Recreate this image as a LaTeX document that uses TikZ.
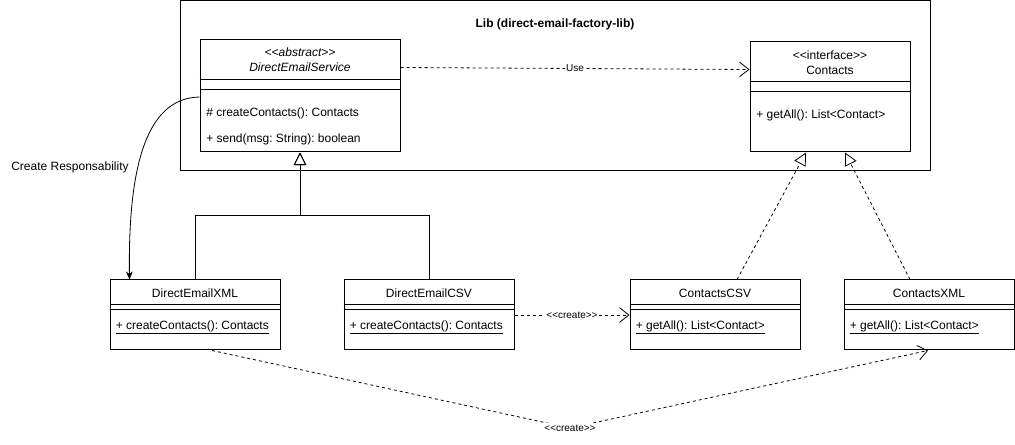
\documentclass[tikz,border=0pt]{standalone}
\usepackage{fontspec}
\setmainfont{Liberation Sans}[Ligatures=NoCommon]
\usetikzlibrary{arrows.meta,calc}
\frenchspacing
\newcommand\lt{<{}<}
\newcommand\gt{>{}>}
\tikzset{
  cls/.style={draw, line width=0.75pt, fill=white, inner sep=0pt, anchor=center},
  txt/.style={font=\fontsize{9}{11.25}\selectfont, inner sep=0pt},
  lbl/.style={font=\fontsize{7.5}{9}\selectfont, inner sep=1pt, fill=white},
  sep/.style={line width=0.75pt},
  dep/.style={dash pattern=on 2.25pt off 2.25pt, line width=0.6pt, -{Straight Barb[length=7pt,width=11pt]}},
  inh/.style={line width=0.75pt, -{Triangle[open,length=9.5pt,width=9.5pt,fill=white]}},
  real/.style={dash pattern=on 2.25pt off 2.25pt, line width=0.6pt, -{Triangle[open,length=9.5pt,width=9.5pt,fill=white]}},
  assoc/.style={line width=0.6pt, -{Stealth[length=6pt,width=5pt]}}
}
\begin{document}
\begin{tikzpicture}[x=0.75pt,y=-0.75pt]
\useasboundingbox (0,0) rectangle (1015,445);
% Lib frame
\node[cls, minimum width=562.5pt, minimum height=127.5pt] (lib) at (555,85.5) {};
\node[txt, font=\fontsize{9}{11.25}\selectfont\bfseries] (libt) at (555,24) {Lib (direct-email-factory-lib)};

% DirectEmailService
\node[cls, minimum width=150pt, minimum height=84pt] (des) at (300,96) {};
\node[txt, align=center, font=\fontsize{9}{11.25}\selectfont\itshape] (dest) at (300,60) {\lt abstract\gt\\DirectEmailService};
\draw[sep] ($(des.north west)+(0,40)$) -- ($(des.north east)+(0,40)$);
\draw[sep] ($(des.north west)+(0,50)$) -- ($(des.north east)+(0,50)$);
\node[txt, anchor=west] (desm1) at (206,113) {\# createContacts(): Contacts};
\node[txt, anchor=west] (desm2) at (206,139) {+ send(msg: String): boolean};

% Contacts interface
\node[cls, minimum width=120pt, minimum height=82.5pt] (con) at (830,97) {};
\node[txt, align=center] (cont) at (830,63) {\lt interface\gt\\Contacts};
\draw[sep] ($(con.north west)+(0,40)$) -- ($(con.north east)+(0,40)$);
\draw[sep] ($(con.north west)+(0,50)$) -- ($(con.north east)+(0,50)$);
\node[txt, anchor=west] (conm1) at (756,115) {+ getAll(): List<Contact>};

% Concrete classes
\foreach \n/\cx/\title/\meth in {dex/195/DirectEmailXML/{+ createContacts(): Contacts},
                                 dcsv/429/DirectEmailCSV/{+ createContacts(): Contacts},
                                 ccsv/715/ContactsCSV/{+ getAll(): List<Contact>},
                                 cxml/929/ContactsXML/{+ getAll(): List<Contact>}}{
  \node[cls, minimum width=127.5pt, minimum height=52.5pt] (\n) at (\cx,315) {};
  \node[txt] (\n t) at (\cx,293) {\title};
  \draw[sep] ($(\n.north west)+(0,25)$) -- ($(\n.north east)+(0,25)$);
  \draw[sep] ($(\n.north west)+(0,30)$) -- ($(\n.north east)+(0,30)$);
  \node[txt, anchor=west] (\n m) at ($(\n.west)+(6,12.5)$) {\underline{\meth}};
}

% Use dependency
\draw[dep] ($(des.north east)+(0,28)$) -- node[lbl] (uselbl) {Use} ($(con.north west)+(0,28)$);

% Inheritance
\draw[inh] (dex.north) -- ++(0,-64) -| (des.south);
\draw[inh] (dcsv.north) -- ++(0,-64) -| (des.south);

% Realization
\draw[real] ($(ccsv.north)+(22,0)$) -- ($(con.south)+(-24,0)$);
\draw[real] ($(cxml.north)+(-19,0)$) -- ($(con.south)+(15,0)$);

% create CSV
\draw[dep] (dcsv.east) -- node[lbl] (c1lbl) {\lt create\gt} (ccsv.west);

% create XML
\coordinate (bend) at (570,428);
\draw[dep] ($(dex.south)+(17,0)$) -- (bend) -- ($(cxml.south)+(-1,0)$);
\node[lbl] (c2lbl) at (bend) {\lt create\gt};

% Create Responsability
\draw[assoc] ($(des.west)+(0,1)$) .. controls (145,98) and (128,170) .. ($(dex.north west)+(20,0)$);
\node[txt] (crl) at (70,167) {Create Responsability};
\end{tikzpicture}
\end{document}
